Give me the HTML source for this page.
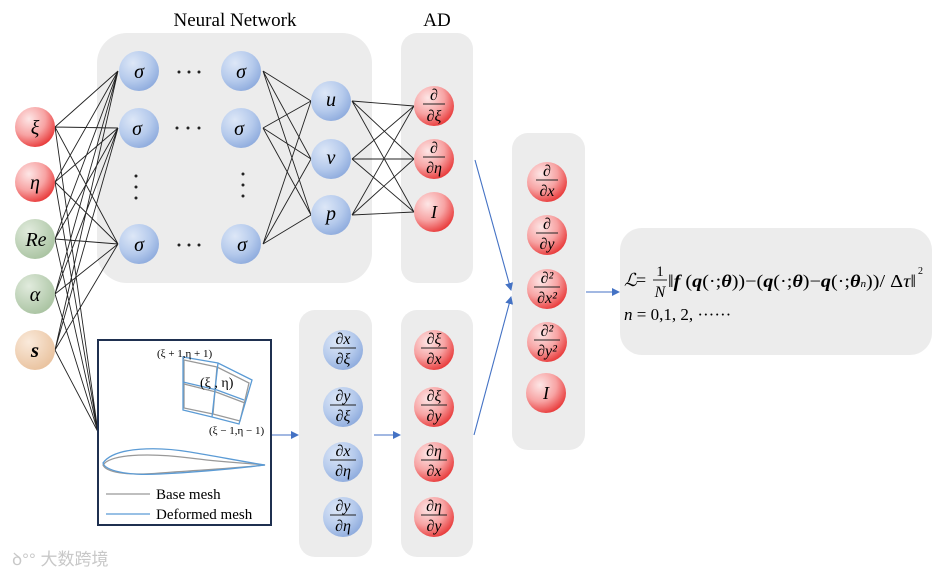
<!DOCTYPE html>
<html><head><meta charset="utf-8"><style>
html,body{margin:0;padding:0;background:#fff;}
svg{display:block;font-family:"Liberation Serif",serif;}
.it{font-style:italic;}
</style></head><body>
<svg width="945" height="577" viewBox="0 0 945 577" xmlns="http://www.w3.org/2000/svg">
<defs>
<radialGradient id="rd" cx="35%" cy="30%" r="75%"><stop offset="0" stop-color="#fde6e6"/><stop offset="0.55" stop-color="#f7a3a3"/><stop offset="1" stop-color="#e83838"/></radialGradient>
<radialGradient id="bl" cx="35%" cy="30%" r="75%"><stop offset="0" stop-color="#dde7f7"/><stop offset="0.6" stop-color="#b5caec"/><stop offset="1" stop-color="#8eabdd"/></radialGradient>
<radialGradient id="gr" cx="35%" cy="30%" r="75%"><stop offset="0" stop-color="#e1ebdd"/><stop offset="1" stop-color="#a9c3a1"/></radialGradient>
<radialGradient id="or" cx="35%" cy="30%" r="75%"><stop offset="0" stop-color="#faeadb"/><stop offset="1" stop-color="#e9c29e"/></radialGradient>
<marker id="ar" markerWidth="8" markerHeight="8" refX="7" refY="4" orient="auto" markerUnits="userSpaceOnUse"><path d="M0,0 L8,4 L0,8 z" fill="#4472c4"/></marker>
</defs>
<rect x="97" y="33" width="275" height="250" rx="30" fill="#ececec"/>
<rect x="401" y="33" width="72" height="250" rx="16" fill="#ececec"/>
<rect x="512" y="133" width="73" height="317" rx="16" fill="#ececec"/>
<rect x="620" y="228" width="312" height="127" rx="22" fill="#ececec"/>
<rect x="299" y="310" width="73" height="247" rx="16" fill="#ececec"/>
<rect x="401" y="310" width="72" height="247" rx="16" fill="#ececec"/>
<text x="235" y="26" font-size="19" text-anchor="middle">Neural Network</text>
<text x="437" y="26" font-size="19" text-anchor="middle">AD</text>
<g stroke="#222" stroke-width="0.9" fill="none">
<path d="M55,127L118,71M55,127L118,128M55,127L118,244M55,127L98,432
M55,182L118,71M55,182L118,128M55,182L118,244M55,182L98,432
M55,239L118,71M55,239L118,128M55,239L118,244M55,239L98,432
M55,294L118,71M55,294L118,128M55,294L118,244M55,294L98,432
M55,350L118,71M55,350L118,128M55,350L118,244M55,350L98,432
M263,71L311,101M263,71L311,159M263,71L311,215
M263,128L311,101M263,128L311,159M263,128L311,215
M263,244L311,101M263,244L311,159M263,244L311,215
M352,101L414,106M352,101L414,159M352,101L414,212
M352,159L414,106M352,159L414,159M352,159L414,212
M352,215L414,106M352,215L414,159M352,215L414,212"/>
</g>
<circle cx="35" cy="127" r="20" fill="url(#rd)"/><text x="35" y="134" font-size="20" text-anchor="middle" class="it">ξ</text>
<circle cx="35" cy="182" r="20" fill="url(#rd)"/><text x="35" y="189" font-size="20" text-anchor="middle" class="it">η</text>
<circle cx="35" cy="239" r="20" fill="url(#gr)"/><text x="36" y="246" font-size="20" text-anchor="middle" class="it">Re</text>
<circle cx="35" cy="294" r="20" fill="url(#gr)"/><text x="35" y="301" font-size="20" text-anchor="middle" class="it">α</text>
<circle cx="35" cy="350" r="20" fill="url(#or)"/><text x="35" y="357" font-size="21" text-anchor="middle" font-weight="bold" class="it">s</text>
<g font-size="20" text-anchor="middle" class="it">
<circle cx="139" cy="71" r="20" fill="url(#bl)"/><text x="139" y="78">σ</text>
<circle cx="139" cy="128" r="20" fill="url(#bl)"/><text x="137" y="135">σ</text>
<circle cx="139" cy="244" r="20" fill="url(#bl)"/><text x="139" y="251">σ</text>
<circle cx="241" cy="71" r="20" fill="url(#bl)"/><text x="241" y="78">σ</text>
<circle cx="241" cy="128" r="20" fill="url(#bl)"/><text x="239" y="135">σ</text>
<circle cx="241" cy="244" r="20" fill="url(#bl)"/><text x="242" y="251">σ</text>
<circle cx="331" cy="101" r="20" fill="url(#bl)"/><text x="331" y="106">u</text>
<circle cx="331" cy="159" r="20" fill="url(#bl)"/><text x="331" y="164">v</text>
<circle cx="331" cy="215" r="20" fill="url(#bl)"/><text x="331" y="220">p</text>
</g>
<g fill="#222">
<circle cx="179" cy="72" r="1.5"/><circle cx="189" cy="72" r="1.5"/><circle cx="199" cy="72" r="1.5"/>
<circle cx="177" cy="128" r="1.5"/><circle cx="188" cy="128" r="1.5"/><circle cx="199" cy="128" r="1.5"/>
<circle cx="179" cy="245" r="1.5"/><circle cx="189" cy="245" r="1.5"/><circle cx="199" cy="245" r="1.5"/>
<circle cx="136" cy="176" r="1.5"/><circle cx="136" cy="187" r="1.5"/><circle cx="136" cy="198" r="1.5"/>
<circle cx="243" cy="174" r="1.5"/><circle cx="243" cy="185" r="1.5"/><circle cx="243" cy="196" r="1.5"/>
</g>
<g font-size="16" text-anchor="middle" class="it">
<circle cx="434" cy="106" r="20" fill="url(#rd)"/><text x="434" y="100">∂</text><line x1="423" y1="104" x2="445" y2="104" stroke="#222"/><text x="434" y="121">∂ξ</text>
<circle cx="434" cy="159" r="20" fill="url(#rd)"/><text x="434" y="153">∂</text><line x1="423" y1="157" x2="445" y2="157" stroke="#222"/><text x="434" y="173">∂η</text>
<circle cx="434" cy="212" r="20" fill="url(#rd)"/><text x="434" y="218" font-size="18">I</text>
</g>
<g font-size="16" text-anchor="middle" class="it">
<circle cx="547" cy="182" r="20" fill="url(#rd)"/><text x="547" y="176">∂</text><line x1="536" y1="180" x2="558" y2="180" stroke="#222"/><text x="547" y="196">∂x</text>
<circle cx="547" cy="235" r="20" fill="url(#rd)"/><text x="547" y="229">∂</text><line x1="536" y1="233" x2="558" y2="233" stroke="#222"/><text x="547" y="249">∂y</text>
<circle cx="547" cy="289" r="20" fill="url(#rd)"/><text x="547" y="283">∂²</text><line x1="534" y1="287" x2="560" y2="287" stroke="#222"/><text x="547" y="303">∂x²</text>
<circle cx="547" cy="342" r="20" fill="url(#rd)"/><text x="547" y="336">∂²</text><line x1="534" y1="340" x2="560" y2="340" stroke="#222"/><text x="547" y="356">∂y²</text>
<circle cx="546" cy="393" r="20" fill="url(#rd)"/><text x="546" y="399" font-size="18">I</text>
</g>
<g font-size="16" text-anchor="middle" class="it">
<circle cx="343" cy="350" r="20" fill="url(#bl)"/><text x="343" y="344">∂x</text><line x1="330" y1="348" x2="356" y2="348" stroke="#222"/><text x="343" y="364">∂ξ</text>
<circle cx="343" cy="407" r="20" fill="url(#bl)"/><text x="343" y="401">∂y</text><line x1="330" y1="405" x2="356" y2="405" stroke="#222"/><text x="343" y="421">∂ξ</text>
<circle cx="343" cy="462" r="20" fill="url(#bl)"/><text x="343" y="456">∂x</text><line x1="330" y1="460" x2="356" y2="460" stroke="#222"/><text x="343" y="476">∂η</text>
<circle cx="343" cy="517" r="20" fill="url(#bl)"/><text x="343" y="511">∂y</text><line x1="330" y1="515" x2="356" y2="515" stroke="#222"/><text x="343" y="531">∂η</text>
<circle cx="434" cy="350" r="20" fill="url(#rd)"/><text x="434" y="344">∂ξ</text><line x1="421" y1="348" x2="447" y2="348" stroke="#222"/><text x="434" y="364">∂x</text>
<circle cx="434" cy="407" r="20" fill="url(#rd)"/><text x="434" y="401">∂ξ</text><line x1="421" y1="405" x2="447" y2="405" stroke="#222"/><text x="434" y="421">∂y</text>
<circle cx="434" cy="462" r="20" fill="url(#rd)"/><text x="434" y="456">∂η</text><line x1="421" y1="460" x2="447" y2="460" stroke="#222"/><text x="434" y="476">∂x</text>
<circle cx="434" cy="517" r="20" fill="url(#rd)"/><text x="434" y="511">∂η</text><line x1="421" y1="515" x2="447" y2="515" stroke="#222"/><text x="434" y="531">∂y</text>
</g>
<rect x="98" y="340" width="173" height="185" fill="#fff" stroke="#1f3050" stroke-width="2"/>
<g fill="none" stroke-width="1.3">
<path d="M184,360L217,367L249,383L240,421L213,414L184,408Z M184,384L216,392L245,403 M217,367L213,414" stroke="#999"/>
<path d="M183,357L218,363L252,380L239,424L212,417L183,410Z M183,382L217,390L244,400 M218,363L212,417" stroke="#5b9bd5"/>
<path d="M103,465C112,452 160,454 190,458C220,462 245,463 265,465C240,468 200,470 160,473C125,476 106,472 103,465Z" stroke="#999"/>
<path d="M103,463C115,446 160,447 190,452C220,457 245,462 265,465C240,468 200,472 160,474C125,476 105,470 103,463Z" stroke="#5b9bd5"/>
<line x1="106" y1="494" x2="150" y2="494" stroke="#999"/>
<line x1="106" y1="514" x2="150" y2="514" stroke="#5b9bd5"/>
</g>
<text x="157" y="357" font-size="11">(ξ + 1,η + 1)</text>
<text x="200" y="387" font-size="14">(ξ , η)</text>
<text x="209" y="434" font-size="11">(ξ − 1,η − 1)</text>
<text x="156" y="499" font-size="15">Base mesh</text>
<text x="156" y="519" font-size="15">Deformed mesh</text>
<g stroke="#4472c4" stroke-width="1.1" fill="none">
<line x1="272" y1="435" x2="298" y2="435" marker-end="url(#ar)"/>
<line x1="374" y1="435" x2="400" y2="435" marker-end="url(#ar)"/>
<line x1="475" y1="160" x2="511" y2="290" marker-end="url(#ar)"/>
<line x1="474" y1="435" x2="511" y2="297" marker-end="url(#ar)"/>
<line x1="586" y1="292" x2="619" y2="292" marker-end="url(#ar)"/>
</g>
<g font-size="18">
<text x="624" y="286" class="it">ℒ</text><text x="636" y="286">=</text>
<text x="660" y="276" font-size="15" text-anchor="middle">1</text>
<line x1="653" y1="280" x2="667" y2="280" stroke="#222"/>
<text x="660" y="297" font-size="16" text-anchor="middle" class="it">N</text>
<text x="668" y="287" font-size="18" textLength="248" lengthAdjust="spacingAndGlyphs"><tspan>‖</tspan><tspan font-weight="bold" class="it">f</tspan> (<tspan font-weight="bold" class="it">q</tspan>(·;<tspan font-weight="bold" class="it">θ</tspan>))−(<tspan font-weight="bold" class="it">q</tspan>(·;<tspan font-weight="bold" class="it">θ</tspan>)−<tspan font-weight="bold" class="it">q</tspan>(·;<tspan font-weight="bold" class="it">θ</tspan><tspan font-size="10" class="it">n</tspan>))/ Δ<tspan class="it">τ</tspan>‖</text>
<text x="918" y="274" font-size="10">2</text>
<text x="624" y="320" font-size="17"><tspan class="it">n</tspan> = 0,1, 2, ······</text>
</g>
<text x="12" y="565" font-size="17" fill="#c8c8c8" font-family="Liberation Sans, 'Noto Sans CJK SC', sans-serif">ꝺ°° 大数跨境</text>
</svg>
</body></html>
